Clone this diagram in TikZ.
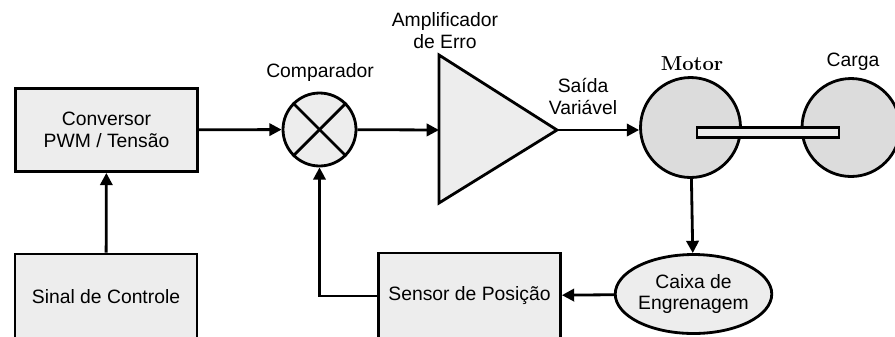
\documentclass[tikz,border=0pt]{standalone}
\usepackage{fontspec}
\setsansfont{Liberation Sans}
\usetikzlibrary{arrows.meta,shapes.geometric}
\definecolor{boxgray}{HTML}{EDEDED}
\definecolor{rotorgray}{HTML}{DCDCDC}
\begin{document}
\begin{tikzpicture}[x=0.02cm, y=-0.02cm, line width=1.6pt,
    font=\sffamily\fontsize{11}{12.5}\selectfont,
    bloco/.style={draw, fill=boxgray, minimum width=3.64cm, align=center},
    seta/.style={-{Triangle[length=7pt,width=7pt]}},
    lbl/.style={align=center, inner sep=0pt}]
\useasboundingbox (0,0) rectangle (895,336);
% blocos
\node[bloco, minimum height=1.66cm] (conv) at (106.5,130) {Conversor\\PWM / Tensão};
\node[bloco, minimum height=1.72cm] (sinal) at (106,297) {Sinal de Controle};
\node[bloco, minimum height=1.72cm] (sensor) at (469.5,296) {Sensor de Posição};
\node[draw, circle, fill=boxgray, minimum size=1.46cm, inner sep=0pt] (comp) at (319.5,129.5) {};
\draw (comp.north west) -- (comp.south east);
\draw (comp.north east) -- (comp.south west);
% amplificador
\coordinate (ampin) at (439,130);
\coordinate (ampout) at (557,130);
\filldraw[fill=boxgray, line join=miter] (439,55) -- (ampout) -- (439,203) -- cycle;
% motor e carga
\node[draw, circle, fill=rotorgray, minimum size=2cm, inner sep=0pt] (motor) at (690.5,127.5) {};
\node[draw, circle, fill=rotorgray, minimum size=1.96cm, inner sep=0pt] (carga) at (851,127.5) {};
\filldraw[fill=boxgray] (697,127.5) rectangle (839,137.5);
\node[draw, ellipse, fill=boxgray, minimum width=3cm, minimum height=1.58cm, align=center, inner sep=0pt] (gear) at (693.5,294) {Caixa de\\Engrenagem};
% rotulos
\node[lbl] at (320,72) {Comparador};
\node[lbl] at (445,31) {Amplificador\\de Erro};
\node[lbl] at (583,96) {Saída\\Variável};
\node[lbl, font=\rmfamily\bfseries\fontsize{11.5}{13}\selectfont] at (692,64) {Motor};
\node[lbl] at (853,62) {Carga};
% ligacoes
\draw[seta] (sinal) -- (conv);
\draw[seta] (conv) -- (comp);
\draw[seta] (comp) -- (ampin);
\draw[seta] (ampout) -- (ampout -| motor.west);
\draw[seta] (motor) -- (gear);
\draw[seta] (gear) -- (sensor);
\draw[seta] (sensor.west) -| (comp.south);
\end{tikzpicture}
\end{document}
